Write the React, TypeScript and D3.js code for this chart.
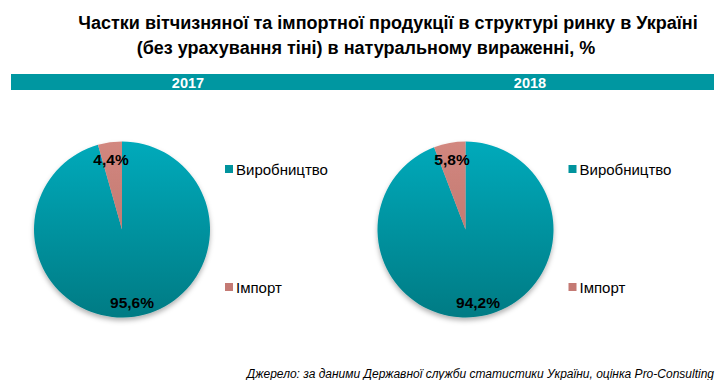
import * as d3 from 'd3'
import React, { useEffect, useRef } from "react";

const years = ['2017', '2018'];
const categories = ['Виробництво', 'Імпорт'];
const production = [95.6, 94.2];
const imports = [4.4, 5.8];
const titleLines = [
    'Частки вітчизняної та імпортної продукції в структурі ринку в Україні',
    '(без урахування тіні) в натуральному вираженні, %'
];
const source = 'Джерело: за даними Державної служби статистики України, оцінка Pro-Consulting';

const W = 725;
const H = 384;

const App: React.FC = () => {
    const ref = useRef<SVGSVGElement>(null);

    useEffect(() => {
        if (!ref.current) return;
        const svg = d3.select(ref.current);
        svg.selectAll('*').remove();
        svg.attr('width', W).attr('height', H);

        const r = 88;
        const cy = 229.5;
        const centers = [122, 465.5];
        const bannerX = [188, 530];

        const defs = svg.append('defs');
        const grads = [
            { id: 'gProd', top: '#00aabb', bottom: '#007b84' },
            { id: 'gImp', top: '#d2877f', bottom: '#b56e66' }
        ];
        grads.forEach(g => {
            const lg = defs.append('linearGradient')
                .attr('id', g.id)
                .attr('gradientUnits', 'userSpaceOnUse')
                .attr('x1', 0).attr('y1', -r).attr('x2', 0).attr('y2', r);
            lg.append('stop').attr('offset', '0%').attr('stop-color', g.top);
            lg.append('stop').attr('offset', '100%').attr('stop-color', g.bottom);
        });
        const filt = defs.append('filter').attr('id', 'shadow')
            .attr('x', '-20%').attr('y', '-20%').attr('width', '140%').attr('height', '140%');
        filt.append('feDropShadow')
            .attr('dx', 0).attr('dy', 3).attr('stdDeviation', 2.5)
            .attr('flood-color', '#000').attr('flood-opacity', 0.3);

        const font = 'Liberation Sans, Arial, sans-serif';

        // title
        const titleX = [388, 366];
        titleLines.forEach((t, i) => {
            svg.append('text')
                .attr('x', titleX[i])
                .attr('y', 29 + i * 25)
                .attr('text-anchor', 'middle')
                .attr('font-family', font)
                .attr('font-weight', 'bold')
                .attr('font-size', 18)
                .attr('fill', '#000')
                .text(t);
        });

        // banner
        svg.append('rect')
            .attr('x', 11).attr('y', 74)
            .attr('width', 703).attr('height', 16)
            .attr('fill', '#0097a1');

        const pie = d3.pie<number>().sort(null).startAngle(-2 * Math.PI).endAngle(0);
        const arc = d3.arc<d3.PieArcDatum<number>>().innerRadius(0).outerRadius(r);
        const colors = ['url(#gProd)', 'url(#gImp)'];
        const legendColors = ['#00939d', '#c47a74'];

        years.forEach((yr, i) => {
            svg.append('text')
                .attr('x', bannerX[i]).attr('y', 87.5)
                .attr('text-anchor', 'middle')
                .attr('font-family', font)
                .attr('font-weight', 'bold')
                .attr('font-size', 14.5)
                .attr('fill', '#fff')
                .text(yr);

            const values = [production[i], imports[i]];
            const arcs = pie(values);
            const g = svg.append('g').attr('transform', `translate(${centers[i]},${cy})`);
            const pg = g.append('g').attr('filter', 'url(#shadow)');
            arcs.forEach((a, j) => {
                pg.append('path')
                    .attr('d', arc(a) as string)
                    .attr('fill', colors[j]);
            });

            // labels
            const labelPos = i === 0
                ? [[10, 78], [-11, -65]]
                : [[12.5, 78], [-13.5, -65]];
            values.forEach((v, j) => {
                g.append('text')
                    .attr('x', labelPos[j][0])
                    .attr('y', labelPos[j][1])
                    .attr('text-anchor', 'middle')
                    .attr('font-family', font)
                    .attr('font-weight', 'bold')
                    .attr('font-size', 15.5)
                    .attr('fill', '#000')
                    .text(d3.format('.1f')(v).replace('.', ',') + '%');
            });

            // legend
            const lx = centers[i] + 103;
            const ly = [169, 287];
            categories.forEach((c, j) => {
                svg.append('rect')
                    .attr('x', lx).attr('y', ly[j] - 4)
                    .attr('width', 8).attr('height', 8)
                    .attr('fill', legendColors[j]);
                svg.append('text')
                    .attr('x', lx + 11).attr('y', ly[j] + 5.5)
                    .attr('font-family', font)
                    .attr('font-size', 15)
                    .attr('fill', '#000')
                    .text(c);
            });
        });

        svg.append('text')
            .attr('x', 714).attr('y', 378)
            .attr('text-anchor', 'end')
            .attr('font-family', font)
            .attr('font-style', 'italic')
            .attr('font-size', 12)
            .attr('fill', '#000')
            .text(source);
    }, []);

    return (
        <div style={{ margin: -8 }}>
            <svg ref={ref}></svg>
        </div>
    );
}

export default App;
